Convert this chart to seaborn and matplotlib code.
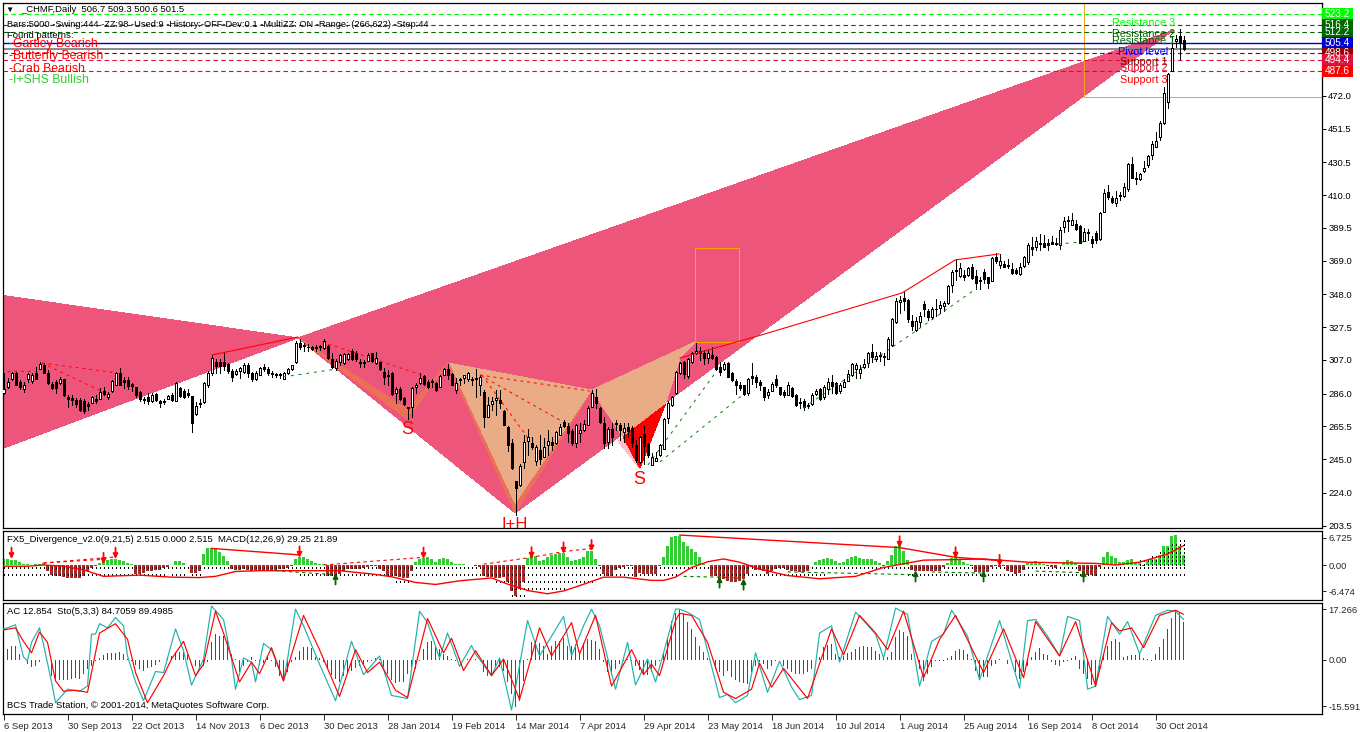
import matplotlib
matplotlib.use("Agg")
import matplotlib.pyplot as plt
from matplotlib.patches import Rectangle
import numpy as np
import pandas as pd
import seaborn as sns

W, H = 1360, 732

# ---- daily candles, one value per bar ----
opens = [286.2,289.9,294.9,298.7,293.2,288.7,294.9,294.1,299.1,301.6,
 303.9,299.1,292,293.5,292.8,295.3,283.9,283.2,282.2,282.2,
 281.6,279.7,280.3,282.6,282.8,287.6,283.7,287.4,291.6,299.1,
 294.5,294.5,292,289.9,287,282.4,283.9,281.4,285.8,281.2,
 281.4,282.8,284.9,281.6,289.5,287.8,286.6,284.5,273,279.5,
 280.8,291.6,298.7,305.8,305.8,305.8,304.5,300.3,298.3,300.3,
 299.7,304.1,299.1,294.9,297.8,302.8,301.2,298.7,298,298,
 295.3,298.7,301.6,306,317.8,316.4,315.3,315.3,315.3,315.8,
 314.3,315.8,307.8,301.8,306,304.9,307.4,312.8,311.2,305.8,
 305.8,306.6,311.2,304.9,305.8,299.5,297.6,299.1,286.6,289.1,
 283.2,277.4,277.8,289.9,292.8,297,293.5,293.9,292.8,290.3,
 297.8,301.2,298.2,288.3,294.9,296,294.9,295.3,295.5,291.2,
 287.2,271.6,279.5,282,282,274.9,264.9,254.9,231.2,228.7,
 243.3,256.2,254.9,244.1,250.8,246.6,254.1,255.8,255.3,260.3,
 268.2,265.8,262.8,255.3,261.6,263.2,266.6,277.8,283.7,277,
 267.4,256,264.1,267.8,266.4,262.2,265.3,264.5,253.9,243.5,
 260.8,254.5,241.6,244.1,247.4,251.6,270.8,278.7,286.2,298.7,
 305.9,297,306,311.2,312.8,311.2,308,309.9,309.1,302.4,
 301.2,305.3,299.1,294.1,291.2,291.2,286.6,297,296.6,293.2,
 289.9,285.1,287.8,294.9,289.9,286.8,285.3,289.5,285.1,280.5,
 281.4,278.9,279.5,285.8,288.7,283.7,289.1,293.2,292.4,287.8,
 290.3,294.1,297.4,301.6,298.7,302.6,305.3,312,307.8,310.1,
 309.5,307.8,316.2,330.8,343,345.8,344.5,331.4,325.8,330.5,
 342,337.8,333.7,339.1,339.7,340.8,342.8,353.7,363.3,359.5,
 359.9,359.9,365.3,359.5,357,362,358.7,356.6,371.2,366.6,
 367,366.2,363.7,363.3,360.8,365.5,368,377.4,377.4,379.9,
 379.9,379.9,380.5,379.9,378.9,389.9,394.5,391.6,391.8,390.8,
 381.6,387,382.6,386.2,382.4,399.7,412,408.5,405.3,410.1,
 409.7,414.1,429.5,420.7,419.9,425.1,428.7,435.3,440.3,446.6,
 454.9,468.5,487.8,506.2,509.5,506.7]
closes = [288.7,293.2,298.7,291.6,290.3,291.6,298.3,297.6,295.3,304.5,
 299.1,292.8,289.5,289.3,294.9,285,282.4,282.2,279.5,275.8,
 275,278.5,283.7,281.6,287,286,285.8,293.7,298.7,291.6,
 293.2,291,290.8,285.1,282.8,281.8,281.4,285.1,282,279.9,
 280.8,284.5,282,292.4,284.5,284.1,285.3,267.8,278,280.3,
 292.4,299.1,308.3,303.3,303.3,303.3,299.9,296.2,300.3,302,
 303.7,299.1,295.3,299.1,302,301.2,298.7,298.3,297.4,297.4,
 298.7,301.2,303.7,317.8,314.9,315.8,314.9,313.7,314.7,315.3,
 319.1,308,302.4,306.6,310,310.8,310.8,307.4,307.4,304.9,
 304.9,310.3,306.2,308,301.6,296.6,296.8,285.8,288.7,282.8,
 279.5,277,289.5,291.6,295.5,292,290.1,293.5,288.3,297,
 301.2,297.8,291.6,292.4,294.5,297.4,298.7,294.7,294.9,296.6,
 271.2,278.9,281.6,283.2,279.9,266.6,254.1,239.3,227,240.8,
 255.8,258.7,252.4,252.8,245.3,252.8,256.2,254.1,262,264.9,
 265.8,261.6,254.9,266.2,263.2,267,276.8,286.6,280.3,268.5,
 254.9,263.7,259.1,267,263.2,264.5,262.8,255.3,244.5,258.7,
 253.3,247.4,246.2,245.8,253.7,269.9,280.3,283.7,299.5,304.9,
 298.3,307.4,311.2,312.8,311.2,308,311.2,308.5,301.2,299.5,
 304.5,296.6,294.5,291.2,289.5,285.8,295.3,296,293.2,291.2,
 284.1,286.8,292,291.2,285.8,284.9,291.2,284.5,279.1,279.9,
 277.8,278.5,284.9,287.4,282.4,290.3,293.2,290.8,286.6,291.2,
 293.2,298.3,304.3,303.9,301.2,304.3,311.2,309.1,309.5,309.5,
 308.7,320.3,332.4,344.1,344.5,344.1,332.8,328.5,331.4,334.3,
 338.7,334.1,339.1,338.7,341.4,342.4,353.3,362,362.4,364.3,
 359.1,364.5,358.3,355.3,356.6,357.8,355.3,370.8,369.1,368.7,
 365.3,365.8,361.6,361.6,364.9,371.2,378.9,376.6,381.2,379.5,
 377.8,379.1,379.7,379.5,388.2,393.9,393.9,394.5,389.1,380.3,
 387,386.2,380.3,382,398.7,411.2,408.7,405.8,408,409.7,
 414.9,429.5,420.9,419.9,423.2,426.8,434.5,442,443.9,454.9,
 473.7,485.8,501.8,507.8,506,501.5]
highs = [298.7,295.5,299.7,299.7,294.5,293.5,299.1,298.7,302.4,306,
 304.9,300.8,293.5,294.5,296.6,295.3,285.1,284.9,283,283,
 282.4,281,284.5,285.1,289.3,290.3,287,294.5,299.7,302,
 296.6,296.6,292.8,290.3,287.4,283.7,286.6,286.6,286.6,282,
 282.4,285.3,286.2,293.5,290.3,288.7,288.7,284.5,281,282.4,
 293.2,300.3,309.9,307.4,307.4,311.2,304.9,301.2,301.2,302.4,
 304.9,304.9,299.7,299.9,302.8,304.5,302.4,300.3,299.1,298.7,
 299.5,302,304.1,319.1,319.9,317.4,317,315.8,316.4,316.4,
 319.9,316.2,311.2,307.4,311,311.6,311.6,313.7,312.8,307.4,
 307,311.2,311.6,312.2,306.2,301.8,300.8,299.5,290.3,289.9,
 283.7,277.8,289.9,292.8,298.7,297.4,294.5,294.9,293.2,297.6,
 301.8,304.5,298.7,295.5,295.8,297.8,299.5,296.2,301.2,297.6,
 288.3,284.1,284.1,288.3,288.3,275.8,265.8,257.8,231.2,242,
 260.1,263.7,259.1,253.9,260.1,258,263.2,259.1,262.8,267,
 269.5,267.4,263.7,267,267.4,269.5,278.2,288.3,288.7,277.8,
 271.2,264.9,267.8,269.5,267.4,267.4,267.4,265.8,257,259.5,
 265.8,255.3,248.7,249.7,254.5,270.5,281.6,284.5,300.3,305.8,
 306.3,308,312.2,317.4,315.3,313.3,313.3,315.3,309.5,305.8,
 305.8,305.9,299.5,294.9,293.5,291.6,295.8,304.9,297.4,294.5,
 290.3,289.1,293.5,297.4,290.3,288.3,293.2,290.3,285.5,283,
 282.4,279.9,286.2,288.7,289.5,291.2,295.8,297.4,293.2,292.4,
 294.9,300.8,304.9,304.9,303.7,307.4,312,317,312,312.2,
 311.2,321.2,333.3,345.5,347.2,349.7,344.9,335.3,334.1,337,
 344.1,338.7,339.9,344.9,344.1,344.1,354.1,363.3,369.9,367.4,
 363.3,365.3,367,363.3,359.1,363.7,359.1,371.2,373.7,373.3,
 369.1,369.9,367.4,364.3,367.4,372,380,383.7,384.1,385.8,
 385.1,382.4,384.5,383,389.9,396.6,397,399.1,394.5,391.4,
 389.5,388.7,384.5,387.4,399.5,414.1,416.4,409.5,412.4,412.2,
 417.4,430.3,433.7,424.7,423.7,431.6,434.9,443.7,449.5,456.2,
 477.4,486.6,509,510,513.7,509.3]
lows = [285.8,289.3,294.5,291.4,288.7,287.2,293.5,292.8,294.9,301.2,
 298.7,292,289.1,286.2,292,284.5,277.8,278.7,277.4,275,
 273.7,275.8,279.9,280.3,282.4,285.1,282.4,287,291.2,291.2,
 289.3,288.7,287.8,284.1,281.6,280.3,279.5,280.8,281.6,277.8,
 279.5,282.4,281.2,281.2,283.7,283.2,283.7,262.2,272.6,277.8,
 280.3,290.3,297.6,299.1,299.1,300.8,298.7,294.1,297.6,295.5,
 299.1,296.2,294.1,294.5,297.4,300.3,297.4,296.6,296.2,295.5,
 294.9,298.3,300.8,305.3,314.1,312.8,312.8,313.2,312.8,313.2,
 313.7,307.4,301.8,300.8,304,304.5,307,307,306.2,302.8,
 302.4,306.2,305.8,304.5,300.8,292,291.4,285.1,279.9,282,
 278.9,269.9,271.2,286.6,292,291.6,289.7,290.3,287.6,289.9,
 297.4,294.9,291.2,286.6,291.2,292.8,294.1,291.4,284.1,285.1,
 264.9,271.2,275.8,272.6,276.8,266.2,250.3,238.9,210.1,228.3,
 239.5,247.6,251.6,241.4,242,246.2,247.6,250.8,254.5,259.9,
 264.9,256,254.1,252.4,256,262.4,266.2,277.4,276.8,267.4,
 251.8,251.8,253.9,263.2,257,256,259.1,252.8,243.5,242.8,
 242,246.6,241.2,243.7,247,251.2,267.4,278.2,285.8,298.3,
 295.5,295.5,305.3,310.8,307,304.5,304.9,307.4,300.8,297.4,
 300.8,296.2,294.1,285.8,288.3,285.3,284.9,292,290.3,288.3,
 282,283,287.4,290.3,284.9,284.1,284.9,284.1,278.2,276.8,
 275.8,276.8,279.1,285.3,282,282.8,285.8,286.6,285.8,286.2,
 289.9,293.7,297,295.8,295.8,302.2,302.8,305.9,306.6,306.6,
 303.9,307.4,315.8,330.3,336.2,338.2,330.8,325.8,324.9,327.8,
 334.5,332,332.8,334.5,336.2,337.4,342,349.7,357,359.1,
 357,359.5,357.8,351.2,351.2,354.9,351.8,356.2,367.4,364.5,
 364.9,364.5,360.8,360.8,360.1,365,367,372.8,375.8,375.8,
 377.4,375.8,379.3,378.9,376.6,387,387.8,391.2,388.2,379.9,
 381.2,382,377.4,380.3,382,399.3,407.8,404.9,403.3,407,
 409.1,412.8,420.5,417,419.5,424.5,427.4,432.8,439.9,444.5,
 454.5,464.3,487.4,502.8,495,500.6]

# ---- FX5 divergence histogram, MACD dotted series, signal line ----
macd_hist = [1.5,1.5,1.3,1.2,.7,.2,.2,.1,.2,.3,
 .4,-1.4,-2.5,-2.6,-2.8,-3,-3.2,-3.3,-3.3,-3.3,
 -2.6,-1.6,-.8,-.2,.5,.8,1.3,1.5,1.5,1.3,
 .9,.4,.2,-2.2,-2.2,-2,-1.6,-1.4,-1.2,-1.2,
 -.8,-.5,-.1,1,1,.5,-.1,-2,-2,-1.4,
 2.7,4.3,4.3,4.1,3.1,2.3,1.1,-1,-1.2,-1.2,
 -1,-1.2,-1.4,-1.2,-1.2,-1.2,-1.2,-1.2,-1.2,-1,
 -1,-.7,-.3,1.5,1.9,2.1,1.5,1.1,.5,.2,
 .2,-2.6,-2.6,-2.8,-2.2,-1.4,-1,-1,-1,-1,
 -.8,-.5,-.3,-.3,-1,-1.6,-2.6,-2.6,-2.8,-3,
 -3.3,-3.3,-1.4,.7,1.5,1.7,1.9,1.5,.8,1.5,
 1.8,1.5,.7,.2,.2,.2,-.1,-.1,-.3,-.5,
 -2.6,-3,-3,-3.3,-3.3,-3,-4.3,-6.3,-7.7,-5.9,
 -4.3,1.7,2.3,2.3,1.1,1.3,2.1,2.5,2.7,3,
 3,1.9,1.1,1.2,1.5,2.1,3.5,3.5,1.6,-.2,
 -2.2,-2.6,-2.6,-1.2,-.8,-.6,-.2,-.3,-3,-2,
 -2.1,-2.1,-2.1,-2.1,-.3,1.9,4.6,6.8,7.2,7.2,
 5.8,4.8,4,3.1,2.1,.2,-.1,-2.6,-2.8,-3.5,
 -3.5,-3.9,-4.1,-4.1,-3.9,-3.5,-2.2,-.6,-1.2,-1.2,
 -1.4,-2.3,-1.4,-1,-.8,-.8,-1.2,-1.4,-1.6,-1.8,
 -1.8,-1.6,.1,.7,1.3,1.5,1.8,1.5,1,.5,
 .8,1.5,2.1,2.3,1.8,1.5,1.6,1.5,1.1,.5,
 -.2,1,2.5,4.6,4.9,3.5,1.2,-1.2,-1.4,-1.4,
 -1.4,-1.4,-1.4,-1.4,-1.4,-.6,.5,1.8,2.1,1.5,
 .8,.2,-.3,-1.8,-1.8,-1.8,-1.8,-.6,-.3,-.6,
 -.3,-1.4,-1.8,-2.3,-2,-1.2,.5,.8,1.1,.8,
 .2,-.3,-.6,-.8,.1,.8,1.2,1,.5,-1.4,
 -2.2,-2.5,-2.5,-2.6,-.6,1.9,3.1,2.3,1.7,.8,
 .8,1.3,1.6,.8,.4,-.2,1.1,1.5,1.5,2.5,
 4.6,4.6,7.2,7.4,4.8,2.5]
macd_low = [-2.7,-2.7,-2.7,-2.7,-2.7,-2.7,-2.7,-2.7,-2.7,-2.7,
 -2.7,-3,-3,-3,-3,-3,-3,-3,-3,-3,
 -3,-3,-3,-3,-2.8,-2.8,-2.8,-2.8,-2.8,-2.8,
 -2.8,-2.8,-2.8,-2.8,-2.8,-2.8,-2.8,-2.7,-2.7,-2.7,
 -2.7,-1,-2.7,-2.7,-2.7,-2.7,-1,-2.7,-2.7,-2.7,
 -1.2,-1.2,-1.2,-1.2,-1.2,-1.2,-1.2,-1.2,-1.5,-1.5,
 -1.5,-1.5,-1.5,-1.5,-1.5,-1.5,-1.5,-1.5,-1.5,-1.5,
 -1.5,-1.5,-1.5,-1.5,-2.8,-2.8,-2.8,-2.8,-2.8,-2.8,
 -2.8,-2.8,-2.8,-2.8,-2.8,-2.8,-2.8,-2.8,-2.8,-2.8,
 -2.8,-2.8,-2.8,-2.8,-2.8,-2.8,-3.6,-3.6,-4.4,-4.4,
 -4.4,-4.4,-3,-3,-3,-3,-3,-3,-3,-3,
 -3,-3,-3,-3,-3,-3,-3,-3,-3,-3.5,
 -3.5,-3.5,-3.5,-4.8,-4.8,-4.8,-4.8,-7.6,-7.6,-7.6,
 -7.6,-6.2,-6.2,-6.2,-6.2,-6.2,-6.2,-6.2,-6.2,-6.2,
 -6.2,-4.5,-4.5,-4.5,-4.5,-4.5,-4.5,-4.5,-3,-3,
 -3,-3,-3,-3,-3,-3,-3,-3,-2.8,-2.8,
 -2.8,-2.8,-2.8,-2.8,-2.8,-2.8,-2.8,-2.8,-2.8,-1,
 -1,-1,-1,-1,-1,-1,-1,-1,-2.8,-2.8,
 -2.8,-2.8,-2.8,-2.8,-2.8,-2.8,-2.8,-2.8,-2.8,-2.8,
 -2.8,-2.8,-2.8,-2.8,-2.8,-2.8,-2.8,-2.8,-2.8,-2.8,
 -2.8,-2.8,-2.8,-2.8,-2.8,-2.8,-1,-1,-1,-1,
 -1,-1,-1,-1,-1,-1,-1,-1,-1,-1,
 -1,-1,-1,-1,-1,-1,-2.7,-2.7,-2.7,-2.7,
 -2.7,-2.7,-2.7,-2.7,-2.7,-2.7,-2.7,-2.7,-2.7,-2.7,
 -2.7,-2.7,-2.7,-2.7,-2.7,-2.7,-2.7,-2.7,-2.7,-2.7,
 -2.7,-2.7,-2.7,-2.7,-2.7,-2.7,-2.7,-2.7,-2.7,-2.7,
 -2.7,-2.7,-2.7,-2.7,-2.7,-2.7,-2.7,-2.7,-2.7,-2.7,
 -2.7,-2.7,-2.7,-2.7,-2.7,-2.7,-2.7,-2.7,-2.7,-2.7,
 -2.7,-2.7,-2.7,-2.7,-2.7,-2.7,-2.7,-2.7,-2.7,-2.7,
 -2.7,-2.7,-2.7,-2.7,-2.7,-2.7]
macd_up_bars = [284,285,286,287,288,289,290,291,292,293,294,295]
macd_up = [1.3,1.6,2,2.4,2.8,3.3,3.9,4.5,5.2,5.9,6.4,6.5]
signal_bars = [0,6,10,15,20,25,34,42,49,53,58,64,75,84,92,97,103,108,114,122,126,131,136,140,144,150,155,162,165,168,
 172,176,180,184,189,196,204,213,220,226,230,236,245,256,267,273,278,284,291,295]
signal_vals = [-.3,-.3,0,-.3,-1.2,-2.8,-2.5,-3,-3.1,-2.8,-1.6,-1.4,-1.4,-1.4,-2.2,-2.9,-4.3,-4.8,-3.9,-3.2,-4.7,-6.3,-7.1,-6.4,-5.1,-3,-3,-3.8,-3.8,-3,
 -.6,.8,1.5,.7,-1,-2.6,-3.4,-2.8,-.6,.5,1.2,1.3,1.5,.7,.5,.4,0,.7,2.7,4.8]

# divergence marks in the MACD panel
div_solid_bars = [[52,74],[169,224,238,249]]
div_solid_vals = [[4.1,2.5],[7.4,4.3,1.9,1.1]]
div_dash_bars = [[10,25],[10,28],[80,105],[120,132,140,147]]
div_dash_vals = [[.5,1.4],[.5,2],[0,1.9],[.2,1.9,3.3,4.1]]
div_green_bars = [[68,83],[170,179,185],[196,228],[232,245],[258,270]]
div_green_vals = [[-1.4,-2.4],[-2.8,-3,-3.3],[-1.7,-2.4],[-1.7,-2],[-1.5,-1.9]]
arrow_dn_bars = [2,25,28,74,105,132,140,147,224,238,249]
arrow_dn_vals = [1.5,.2,1.5,1.8,1.5,1.6,2.8,3.4,4.3,1.6,-.3]
arrow_up_bars = [83,179,185,228,245,270]
arrow_up_vals = [-2,-2.8,-3.3,-1.3,-1.3,-1.3]

# ---- AC bars and stochastic ----
ac_vals = [1.5,3.7,4.9,4.6,2,0,-1.4,-2.5,-1.9,-.6,
 0,0,-5.3,-6.4,-6.7,-6.7,-6.8,-6.4,-6.2,-6.3,
 -4.7,-3,-1.9,-.2,.6,1.7,2.3,2.4,2.5,2.6,
 2,.3,-.2,-1.7,-3,-3.6,-2.8,-2.5,-1.7,-.8,
 0,.8,1.5,2.6,2.8,2.6,1.7,0,-1.9,-3,
 -1.9,-.6,6,8.8,8.2,8,7.7,2,.3,-4.2,
 -1.9,-.6,.9,-.2,-1.7,-1,.9,-.2,-2.5,-5.3,
 -6.7,-4.2,-.8,.9,3.2,4.3,4.3,4,.9,.6,
 -.8,-3,-5.1,-6.4,-7.6,-5.5,-4.7,-3.6,-2.8,-1.9,
 -1.4,-.8,-.2,.8,.3,-2.5,-4.7,-6.7,-7.8,-7.6,
 -7.3,-4.7,-2.5,-3,-.2,3.7,6,6.4,5.1,3.7,
 2,1.2,.3,-.2,.8,0,.3,0,.3,0,
 -4.2,-5.3,-4.7,-2.5,-2.5,-3.6,-7.6,-11.5,-16,-13.8,
 -7,.3,6,6.5,5.8,4.6,2,4.9,6.5,6.5,
 7.3,4.6,4.9,5.4,2.6,5.8,7.1,6.9,6.5,3.7,
 -.6,-4.2,-5.1,-3,-1.4,-.2,.3,-.2,-1.9,-3.3,
 -4.7,-5,-4.2,-1.9,-.2,2.6,7.1,13.3,15.9,17,
 15.6,12.8,10.5,7.7,4.9,2.6,.6,0,-3,-4.2,
 -5.3,-3.6,-5.9,-6.7,-7.3,-7.8,-8.1,-4.2,-1.9,-.8,
 -1.4,-3,-1.9,-.2,0,-1.9,-3,-4.2,-4.7,-4.7,
 -4.7,-4.2,-3,0,.9,4.3,5.1,5.4,2,.9,
 1.5,2.4,2.6,3.7,4.3,4.6,4.5,4.3,3.2,2,
 .9,.9,2.6,7.7,10.3,9.4,8.2,2,0,-3,
 -7,-4.7,-2.5,-.2,-.5,-.2,.6,1.2,3.2,3.7,
 3.5,2,.3,-3.6,-5.9,-5.9,-5.9,-1.9,-1.4,.3,
 0,-1.4,-.2,-4.2,-6.4,-4.2,-1.9,.9,2.6,4,
 2,1.7,-.6,-1.7,-1.9,-.6,-.2,.6,1.2,-3,
 -4.7,-6.4,-8.5,-8.7,-3,2,4.6,6.5,7.1,6.2,
 .9,1.5,1.7,1.7,2,.6,.3,-.2,2,4.3,
 7.1,10.5,14.1,16.9,15.9,12.9]
sto_bars = [0,1,3,5,6,7,9,10,12,13,16,19,21,22,23,24,26,28,30,31,33,35,38,40,43,45,47,50,52,55,57,58,60,62,63,65,67,70,71,73,
 75,79,83,87,90,94,97,101,104,106,109,111,114,117,118,122,124,127,131,134,140,142,145,147,149,153,156,158,161,163,166,168,169,
 171,174,176,179,181,183,186,188,191,194,197,199,202,204,207,209,213,215,218,220,223,226,229,232,235,237,241,244,249,254,256,
 258,261,264,266,269,271,273,276,279,281,284,288,291,293,295]
sto_main = [78,79,82,51,47,65,79,63,27,7,20,18,23,73,73,83,79,89,81,52,27,9,37,36,78,57,24,49,100,87,49,20,50,46,27,64,58,28,49,97,
 81,44,9,66,34,52,14,11,95,84,50,74,42,62,54,33,50,0,86,52,90,52,81,97,81,20,65,24,49,27,69,97,97,
 94,87,57,12,15,7,14,55,17,47,22,10,14,74,81,46,94,86,73,50,98,92,23,66,73,96,71,29,86,21,86,
 87,71,52,90,86,20,23,90,73,85,54,91,96,95,87]
sig_bars = [0,3,5,7,9,11,13,15,18,21,24,28,31,33,36,40,42,45,48,50,53,55,59,62,64,67,70,75,79,84,88,91,94,98,101,106,110,112,115,118,
 122,125,129,134,137,142,144,148,152,157,160,162,164,168,169,172,176,180,183,187,189,192,195,201,207,210,214,218,221,225,
 230,234,238,245,250,255,258,264,268,273,277,279,282,285,289,293,295]
sto_signal = [77,79,66,55,75,65,28,18,19,17,74,83,68,36,7,33,49,66,33,44,95,74,27,46,35,60,28,91,58,13,58,36,46,19,12,88,55,69,38,57,
 33,49,10,79,52,84,54,91,23,58,34,44,33,86,93,91,65,17,11,20,45,22,40,11,78,53,91,74,58,95,
 31,68,91,36,78,31,85,52,85,23,84,76,79,60,91,96,92]

# ---- harmonic pattern pivots (bar, price) ----
wedge_left_bars, wedge_left_prices = [-1, 73.6, -1], [347.6, 320.8, 251]
wedge_main_bars, wedge_main_prices = [73.6, 127.9, 292.4], [320.8, 211.4, 513]
band1_bars, band1_prices = [73.6, 100.9, 100.9], [320.8, 270.1, 276]
band2_bars, band2_prices = [100.9, 111.1, 100.9], [270.1, 305.1, 276]
head_bars, head_prices = [111.1, 147.1, 127.9], [305.1, 288.25, 211.4]
head_tan_bars, head_tan_prices = [111.6, 146.9, 127.9], [304.9, 288.2, 217.6]
shoulder_bars = [147.1, 172.9, 169.1, 165.4, 154.9]
shoulder_prices = [288.25, 318.25, 308.25, 278.9, 258.9]
band3_bars, band3_prices = [147.1, 154.9, 157, 148.5], [288.25, 258.9, 263, 288.8]
pink_bars, pink_prices = [153.6, 159.1, 155.4], [256.4, 238.9, 258.9]
red_bars, red_prices = [154.9, 165.4, 159.1], [258.9, 278.9, 239.5]
box_bars, box_prices = [172.9, 183.9], [318.25, 377]
box2_bar, box2_price = 270, 471.4

zz_solid = [([52.1, 73.6], [310.1, 321.4]),
            ([169.1, 188.6, 224.6, 237.9, 248.9], [308.3, 322, 348.9, 369.5, 373.3])]
zz_red_dash = [([1, 2, 8], [299.5, 300, 299.8]),
               ([9.6, 28.4], [305.1, 298.9]),
               ([9.6, 24.9], [305.1, 287]),
               ([79.6, 104.6], [318.3, 297.6]),
               ([119.1, 146.6], [297.6, 287.6]),
               ([119.1, 139.9], [297.6, 268.3]),
               ([119.6, 130.9], [297.6, 258.9])]
zz_green_dash = [([69.9, 83.4], [296.4, 301.4]),
                 ([263.6, 269.9], [379.5, 380.8]),
                 ([161.1, 178.1], [241.4, 299.5]),
                 ([164.1, 185.4], [243.3, 286.4]),
                 ([199.9, 226.6, 243.4], [277, 322.6, 352])]

# ---- levels and axis labels ----
level_prices = [523.2, 516.4, 512.2, 505.4, 501.5, 498.6, 494.4, 487.6]
level_labels = ["523.2", "516.4", "512.2", "505.4", None, "498.6", "494.4", "487.6"]
level_colors = ["#00FF00", "#006400", "#006400", "#0000CD", "#808080", "#8B0000", "#DC143C", "#FF0000"]
level_names = ["Resistance 3", "Resistance 2", "Resistance 1", "Pivot level", "Support 1", "Support 2", "Support 3"]
name_bars = [277.1, 277.1, 277.1, 278.6, 279.1, 279.1, 279.1]
name_prices = [517.6, 510.7, 506.3, 499.5, 493.2, 489.5, 482]
name_colors = ["#00FF00", "#006400", "#006400", "#0000FF", "#8B0000", "#DC143C", "#FF0000"]
price_ticks = [472.0, 451.5, 430.5, 410.0, 389.5, 369.0, 348.0, 327.5, 307.0, 286.0, 265.5, 245.0, 224.0, 203.5]
date_bars = [0, 16, 32, 48, 64, 80, 96, 112, 128, 144, 160, 176, 192, 208, 224, 240, 256, 272, 288]
date_labels = ["6 Sep 2013", "30 Sep 2013", "22 Oct 2013", "14 Nov 2013", "6 Dec 2013", "30 Dec 2013",
               "28 Jan 2014", "19 Feb 2014", "14 Mar 2014", "7 Apr 2014", "29 Apr 2014", "23 May 2014",
               "18 Jun 2014", "10 Jul 2014", "1 Aug 2014", "25 Aug 2014", "16 Sep 2014", "8 Oct 2014", "30 Oct 2014"]

sns.set_theme(style="white")
plt.rcParams["font.family"] = ["Liberation Sans", "DejaVu Sans"]
plt.rcParams["font.size"] = 6.8
plt.rcParams["axes.linewidth"] = 0.9
plt.rcParams["axes.edgecolor"] = "black"

bars = np.arange(len(opens))
x_lim = (-0.125, 329.6)


def make_axes(top, bottom):
    ax = fig.add_axes([3 / W, 1 - bottom / H, 1319 / W, (bottom - top) / H])
    ax.set_xlim(*x_lim)
    return ax


def fig_text(x, y, s, **kw):
    fig.text(x / W, 1 - y / H, s, va="center", ha="left", **kw)


fig = plt.figure(figsize=(W / 100, H / 100), dpi=100, facecolor="white")

# ---- main price panel ----
ax = make_axes(3, 528)
ax.set_ylim(202, 530.1)
for xs, ys, col, z in [(wedge_left_bars, wedge_left_prices, "#EE557B", 1),
                       (wedge_main_bars, wedge_main_prices, "#EE557B", 1),
                       (band1_bars, band1_prices, "#EC6F57", 1.2),
                       (band2_bars, band2_prices, "#EC6F57", 1.2),
                       (head_bars, head_prices, "#EC6F57", 1.2),
                       (head_tan_bars, head_tan_prices, "#E9AC86", 1.3),
                       (band3_bars, band3_prices, "#EC6F57", 1.2),
                       (shoulder_bars, shoulder_prices, "#E9AC86", 1.3),
                       (pink_bars, pink_prices, "#FFC0CB", 1.4),
                       (red_bars, red_prices, "#FF0000", 1.5)]:
    ax.fill(xs, ys, color=col, lw=0, zorder=z, antialiased=False)

ax.add_patch(Rectangle((box_bars[0], box_prices[0]), box_bars[1] - box_bars[0], box_prices[1] - box_prices[0],
                       fill=False, ec="#FFA500", lw=0.72, zorder=2, antialiased=False))
ax.add_patch(Rectangle((box2_bar, box2_price), 200, 100, fill=False, ec="#F5A623", lw=0.72, zorder=2, antialiased=False))

# wicks then bodies
ax.vlines(bars, lows, highs, colors="black", lw=0.72, zorder=3, antialiased=False)
o = np.array(opens)
c = np.array(closes)
ax.bar(bars, np.abs(c - o), bottom=np.minimum(o, c), width=0.5, linewidth=0.72, edgecolor="black",
       color=["white" if cl >= op else "black" for op, cl in zip(o, c)], zorder=3.1, antialiased=False)

for xs, ys in zz_solid:
    sns.lineplot(x=xs, y=ys, color="#FF0000", lw=0.8, ax=ax, zorder=4, errorbar=None, sort=False)
for xs, ys in zz_red_dash:
    sns.lineplot(x=xs, y=ys, color="#FF0000", lw=0.7, ax=ax, zorder=4, errorbar=None, sort=False, linestyle=(0, (3, 4)))
for xs, ys in zz_green_dash:
    sns.lineplot(x=xs, y=ys, color="#008000", lw=0.7, ax=ax, zorder=4, errorbar=None, sort=False, linestyle=(0, (3, 5)))

for p, lab, col in zip(level_prices, level_labels, level_colors):
    if lab is None:
        ax.axhline(p, color=col, lw=1.3, zorder=2.5)
    elif lab == "505.4":
        ax.axhline(p, color=col, lw=1.0, zorder=2.5)
    else:
        ax.axhline(p, color=col, lw=0.8, zorder=2.5, linestyle=(0, (4, 3)))

# price tags on the right
trans = ax.get_yaxis_transform()
for p, lab, col in zip(level_prices, level_labels, level_colors):
    if lab is None:
        continue
    ax.add_patch(Rectangle((1.0, p - 3.6), 31 / 1319, 7.2, transform=trans, color=col, clip_on=False, lw=0, zorder=5))
    ax.text(1.0 + 15.5 / 1319, p, lab, transform=trans, color="white", fontsize=7.2, ha="center", va="center", zorder=6)

for name, b, p, col in zip(level_names, name_bars, name_prices, name_colors):
    ax.text(b, p, name, color=col, fontsize=7.8, ha="left", va="center", zorder=5)

ax.text(101, 263.8, "S", color="#FF0000", fontsize=13, ha="center", va="center", zorder=5)
ax.text(159, 232.6, "S", color="#FF0000", fontsize=13, ha="center", va="center", zorder=5)
ax.text(127.9, 204, "I+H", color="#FF0000", fontsize=12, ha="center", va="center", zorder=5, clip_on=True)

ax.yaxis.tick_right()
ax.set_yticks(price_ticks)
ax.set_yticklabels([f"{v:.1f}" for v in price_ticks])
ax.tick_params(axis="y", length=3, width=0.72, pad=1.5, labelsize=6.8, colors="black", right=True)
ax.set_xticks([])

# ---- FX5 divergence + MACD panel ----
ax2 = make_axes(531, 600)
macd_df = pd.DataFrame({"bar": bars, "hist": macd_hist})
macd_df["sign"] = np.where(macd_df["hist"] >= 0, "up", "down")
sns.barplot(data=macd_df, x="bar", y="hist", hue="sign", palette={"up": "#32CD32", "down": "#A52A2A"},
            native_scale=True, dodge=False, width=0.8, errorbar=None, legend=False, saturation=1, ax=ax2)
for patch in ax2.patches:
    patch.set_antialiased(False)
    patch.set_edgecolor("none")
    patch.set_linewidth(0)
ax2.vlines(bars, np.zeros(len(bars)), macd_low, colors="black", lw=0.72, linestyles=[(4.7, (1, 6.7))], zorder=3, antialiased=False)
ax2.vlines(macd_up_bars, np.zeros(len(macd_up)), macd_up, colors="black", lw=0.72, linestyles=[(0, (1.5, 2.5))], zorder=3, antialiased=False)
sns.lineplot(x=signal_bars, y=signal_vals, color="#FF0000", lw=1.0, ax=ax2, zorder=4, errorbar=None)
for xs, ys in zip(div_solid_bars, div_solid_vals):
    sns.lineplot(x=xs, y=ys, color="#FF0000", lw=1.0, ax=ax2, zorder=4, errorbar=None)
for xs, ys in zip(div_dash_bars, div_dash_vals):
    sns.lineplot(x=xs, y=ys, color="#FF0000", lw=0.8, ax=ax2, zorder=4, errorbar=None, linestyle=(0, (3, 3)))
for xs, ys in zip(div_green_bars, div_green_vals):
    sns.lineplot(x=xs, y=ys, color="#008000", lw=0.8, ax=ax2, zorder=4, errorbar=None, linestyle=(0, (3, 3)))
for b, v in zip(arrow_dn_bars, arrow_dn_vals):
    ax2.annotate("", xy=(b, v), xytext=(b, v + 2.8), zorder=5,
                 arrowprops=dict(arrowstyle="-|>", color="#FF0000", lw=1.3, shrinkA=0, shrinkB=0, mutation_scale=7))
for b, v in zip(arrow_up_bars, arrow_up_vals):
    ax2.annotate("", xy=(b, v), xytext=(b, v - 2.8), zorder=5,
                 arrowprops=dict(arrowstyle="-|>", color="#006400", lw=1.3, shrinkA=0, shrinkB=0, mutation_scale=7))
ax2.set_xlim(*x_lim)
ax2.set_ylim(-8.64, 8.4)
ax2.set_xlabel("")
ax2.set_ylabel("")
ax2.set_xticks([])
ax2.yaxis.tick_right()
ax2.set_yticks([6.725, 0, -6.474])
ax2.set_yticklabels(["6.725", "0.00", "-6.474"])
ax2.tick_params(axis="y", length=3, width=0.72, pad=1.5, labelsize=6.8, right=True)

# ---- AC + Stochastic panel ----
ax3 = make_axes(603, 714)
ac_df = pd.DataFrame({"bar": bars, "ac": ac_vals})
ac_df["dir"] = np.where(ac_df["ac"].diff().fillna(1) >= 0, "up", "down")
sns.barplot(data=ac_df, x="bar", y="ac", hue="dir", palette={"up": "#008000", "down": "#FF0000"},
            native_scale=True, dodge=False, width=0.25, errorbar=None, legend=False, saturation=1, ax=ax3)
for patch in ax3.patches:
    patch.set_antialiased(False)
    patch.set_edgecolor("none")
    patch.set_linewidth(0)
ax3.set_xlim(*x_lim)
ax3.set_ylim(-18.3, 19.3)
ax3.set_xlabel("")
ax3.set_ylabel("")

ax_sto = ax3.twinx()
sns.lineplot(x=sto_bars, y=sto_main, color="#20B2AA", lw=0.85, ax=ax_sto, errorbar=None)
sns.lineplot(x=sig_bars, y=sto_signal, color="#FF0000", lw=0.85, ax=ax_sto, errorbar=None)
ax_sto.set_xlim(*x_lim)
ax_sto.set_ylim(-3.85, 102.9)
ax_sto.axis("off")

ax3.yaxis.tick_right()
ax3.set_yticks([17.266, 0, -15.591])
ax3.set_yticklabels(["17.266", "0.00", "-15.591"])
ax3.tick_params(axis="y", length=3, width=0.72, pad=1.5, labelsize=6.8, right=True)
ax3.set_xticks(date_bars)
ax3.set_xticklabels(date_labels, ha="left")
ax3.tick_params(axis="x", length=4, width=0.72, pad=1.5, labelsize=6.8, bottom=True)

# ---- header texts ----
fig_text(5, 10, "\u25BC", fontsize=6, color="black")
fig_text(21, 10, "_CHMF,Daily  506.7 509.3 500.6 501.5", fontsize=6.8, color="black")
fig_text(7, 24.5, "Bars:5000 -Swing:444 -ZZ:98 -Used:9 -History:-OFF-Dev:0.1 -MultiZZ: ON -Range: (266,622) -Step:44",
         fontsize=6.7, color="black")
fig_text(7, 35, "Found patterns:", fontsize=6.8, color="black")
fig_text(9, 44.5, "-Gartley Bearish", fontsize=8.8, color="#FF0000")
fig_text(9, 56.5, "-Butterfly Bearish", fontsize=8.8, color="#FF0000")
fig_text(9, 68.5, "-Crab Bearish", fontsize=8.8, color="#FF0000")
fig_text(9, 80, "-I+SHS Bullish", fontsize=8.8, color="#32CD32")
fig_text(7, 539, "FX5_Divergence_v2.0(9,21,5) 2.515 0.000 2.515  MACD(12,26,9) 29.25 21.89", fontsize=6.8, color="black")
fig_text(7, 612, "AC 12.854  Sto(5,3,3) 84.7059 89.4985", fontsize=6.8, color="black")
fig_text(7, 706, "BCS Trade Station, \u00A9 2001-2014, MetaQuotes Software Corp.", fontsize=6.8, color="black")

fig.savefig("out.png", dpi=100)
